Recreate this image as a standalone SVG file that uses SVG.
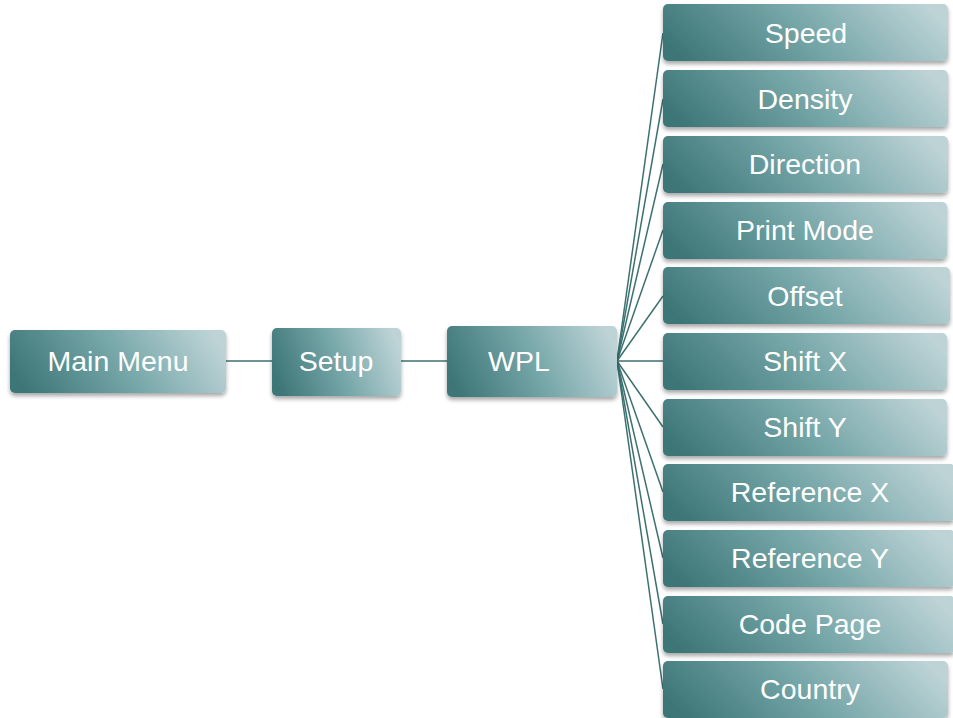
<svg xmlns="http://www.w3.org/2000/svg" width="953" height="718" viewBox="0 0 953 718">
<defs>
<linearGradient id="g" x1="0" y1="0.6" x2="1" y2="0.4">
<stop offset="0" stop-color="#3e7677"/>
<stop offset="0.5" stop-color="#75a6a8"/>
<stop offset="1" stop-color="#bdd3d6"/>
</linearGradient>
<linearGradient id="shade" x1="0" y1="0" x2="0" y2="1">
<stop offset="0.6" stop-color="#2f6566" stop-opacity="0"/>
<stop offset="1" stop-color="#2f6566" stop-opacity="0.25"/>
</linearGradient>
<filter id="sh" x="-10%" y="-20%" width="120%" height="150%">
<feGaussianBlur in="SourceAlpha" stdDeviation="2"/>
<feOffset dx="0" dy="3" result="b"/>
<feComponentTransfer><feFuncA type="linear" slope="0.35"/></feComponentTransfer>
<feMerge><feMergeNode/><feMergeNode in="SourceGraphic"/></feMerge>
</filter>
</defs>
<style>
.box{fill:url(#g);filter:url(#sh)}
.t{font-family:"Liberation Sans",Arial,sans-serif;font-size:28.5px;fill:#fff;text-anchor:middle}
.c{stroke:#3d7171;stroke-width:1.5;fill:none}
</style>
<rect width="953" height="718" fill="#fff"/>
<g id="connectors">
<line class="c" x1="226" y1="361" x2="272" y2="361"/>
<line class="c" x1="401" y1="361" x2="447" y2="361"/>
<line class="c" x1="617" y1="361" x2="663" y2="33"/>
<line class="c" x1="617" y1="361" x2="663" y2="99"/>
<line class="c" x1="617" y1="361" x2="663" y2="164"/>
<line class="c" x1="617" y1="361" x2="663" y2="230"/>
<line class="c" x1="617" y1="361" x2="663" y2="296"/>
<line class="c" x1="617" y1="361" x2="663" y2="361"/>
<line class="c" x1="617" y1="361" x2="663" y2="427"/>
<line class="c" x1="617" y1="361" x2="663" y2="492"/>
<line class="c" x1="617" y1="361" x2="663" y2="558"/>
<line class="c" x1="617" y1="361" x2="663" y2="624"/>
<line class="c" x1="617" y1="361" x2="663" y2="689"/>
</g>
<g id="main-menu"><rect class="box" x="10" y="330" width="216" height="63" rx="5"/><text class="t" x="118" y="371">Main Menu</text></g>
<g id="setup"><rect class="box" x="272" y="328" width="129" height="68" rx="5"/><text class="t" x="336" y="371">Setup</text></g>
<g id="wpl"><rect class="box" x="447" y="326" width="170" height="71" rx="5"/><text class="t" x="519" y="371">WPL</text></g>
<g id="speed"><rect class="box" x="663" y="4" width="285" height="57" rx="5"/><text class="t" x="806" y="43">Speed</text></g>
<g id="density"><rect class="box" x="663" y="70" width="285" height="57" rx="5"/><text class="t" x="805" y="109">Density</text></g>
<g id="direction"><rect class="box" x="663" y="136" width="285" height="57" rx="5"/><text class="t" x="805" y="174">Direction</text></g>
<g id="print-mode"><rect class="box" x="663" y="202" width="284" height="57" rx="5"/><text class="t" x="805" y="240">Print Mode</text></g>
<g id="offset"><rect class="box" x="663" y="267" width="287" height="57" rx="5"/><text class="t" x="805" y="306">Offset</text></g>
<g id="shift-x"><rect class="box" x="663" y="333" width="284" height="57" rx="5"/><text class="t" x="805" y="371">Shift X</text></g>
<g id="shift-y"><rect class="box" x="663" y="399" width="284" height="57" rx="5"/><text class="t" x="805" y="437">Shift Y</text></g>
<g id="reference-x"><rect class="box" x="663" y="464" width="292" height="57" rx="5"/><text class="t" x="810" y="502">Reference X</text></g>
<g id="reference-y"><rect class="box" x="663" y="530" width="292" height="57" rx="5"/><text class="t" x="810" y="568">Reference Y</text></g>
<g id="code-page"><rect class="box" x="663" y="596" width="292" height="57" rx="5"/><text class="t" x="810" y="634">Code Page</text></g>
<g id="country"><rect class="box" x="663" y="661" width="285" height="57" rx="5"/><text class="t" x="810" y="699">Country</text></g>
</svg>
